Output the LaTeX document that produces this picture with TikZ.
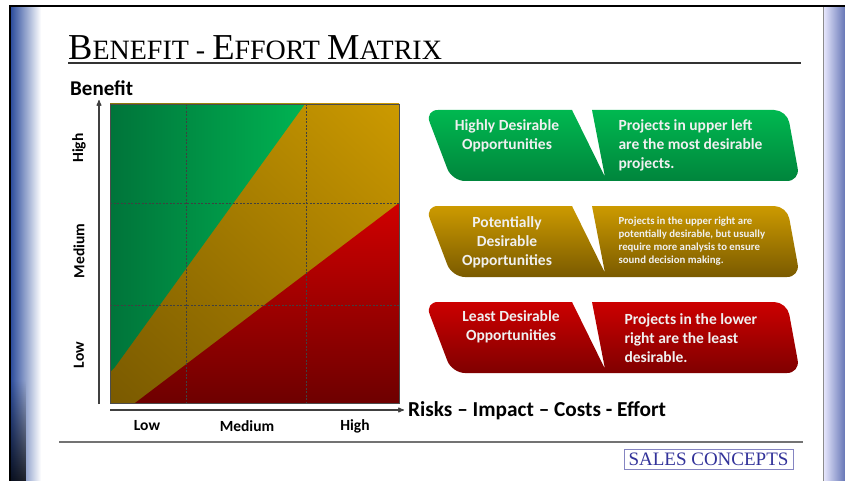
\documentclass[tikz,border=0pt]{standalone}
\usepackage{fontspec}
\setmainfont{Liberation Serif}
\setsansfont{Carlito}
\usepackage{tikz}
\usetikzlibrary{arrows}
\usetikzlibrary{positioning}
\usetikzlibrary{fadings, shadings}
\usepackage{xcolor}
\definecolor{frameblue}{HTML}{2E4E9E}
\definecolor{sideblue}{HTML}{6676B6}
\definecolor{mgreendark}{HTML}{00743A}
\definecolor{mgreenlight}{HTML}{00B352}
\definecolor{cgreentop}{HTML}{00B850}
\definecolor{cgreenbot}{HTML}{00853C}
\definecolor{mred}{HTML}{D00000}
\definecolor{mreddark}{HTML}{6E0000}
\definecolor{morangeul}{HTML}{A07A00}
\definecolor{morangeur}{HTML}{CC9A00}
\definecolor{morangell}{HTML}{7A5A00}
\definecolor{morangelr}{HTML}{9E7400}
\definecolor{logoblue}{HTML}{33339A}
\newcommand{\bigsc}[2]{{\fontsize{36.5}{36.5}\selectfont #1}{\fontsize{28}{28}\selectfont #2}}
\newcommand{\callout}[3]{%
  \shade[top color=#2, bottom color=#3] (605,#1+67) -- (572,#1) [rounded corners=13pt] -- (425,#1) -- (452,#1+71) -- (800,#1+71) -- (787,#1) [sharp corners] -- (592,#1) -- cycle;}

\begin{document}
\begin{tikzpicture}[
        x=1pt, y=-1pt,
        axis/.style={->, >=stealth', line width=1.1pt, black!75},
        gridline/.style={black!75, line width=.6pt, dash pattern=on 2pt off 1.5pt},
        lbl/.style={font=\sffamily\bfseries\fontsize{15.5}{15.5}\selectfont},
        boxtext/.style={text=white!94!black, font=\sffamily\bfseries\fontsize{15.5}{19}\selectfont, align=center},
        smalltext/.style={text=white!94!black, font=\sffamily\bfseries\fontsize{10.8}{13}\selectfont, align=left, anchor=west}
    ]
        \useasboundingbox (0,0) rectangle (845,481);
        \fill[white] (0,0) rectangle (845,481);
        \shade[left color=frameblue, right color=white] (11,6) rectangle (41,481);
        \fill[black, opacity=.8, path fading=north] (11,380) rectangle (26,481);
        \shade[left color=white!92!blue, right color=sideblue] (823,6) rectangle (845,481);
        \draw[black!45, line width=.8pt] (823,6) -- (823,481);
        \draw[black, line width=2pt] (10,481) -- (10,6) -- (845,6);

        \node[anchor=base west, inner sep=0] (title) at (68,60) {\bigsc{B}{ENEFIT - }\bigsc{E}{FFORT }\bigsc{M}{ATRIX}};
        \draw[black!80, line width=1.5pt] (68,63) -- (801,63);
        \node[anchor=west, inner sep=0, font=\sffamily\bfseries\fontsize{21}{21}\selectfont] (benefit) at (70,88) {Benefit};

        \shade[upper left=morangeul, upper right=morangeur, lower left=morangell, lower right=morangelr] (110,104) rectangle (399,403);
        \shade[left color=mgreendark, right color=mgreenlight] (110,104) -- (305,104) -- (115,367) -- (110,372) -- cycle;
        \shade[top color=mred, bottom color=mreddark] (135,403) -- (399,203) -- (399,403) -- cycle;
        \foreach \x in {186,306} \draw[gridline] (\x,104) -- (\x,403);
        \foreach \y in {203,305} \draw[gridline] (110,\y) -- (399,\y);
        \draw[black!70, line width=.6pt] (110,104) rectangle (399,403);

        \coordinate (yo) at (99,404);
        \coordinate (yt) at (99,100);
        \coordinate (xo) at (110,410);
        \coordinate (xt) at (404,410);
        \draw[axis] (yo) -- (yt);
        \draw[axis] (xo) -- (xt);

        \node[lbl, rotate=90] (yhigh) at (79,148) {High};
        \node[lbl, rotate=90] (ymed) at (79,251) {Medium};
        \node[lbl, rotate=90] (ylow) at (79,355) {Low};
        \node[lbl] (xlow) at (147,426) {Low};
        \node[lbl] (xmed) at (247,426) {Medium};
        \node[lbl] (xhigh) at (355,426) {High};
        \node[anchor=west, inner sep=0, font=\sffamily\bfseries\fontsize{21.3}{21.3}\selectfont] (xaxis) at (408,411) {Risks -- Impact -- Costs - Effort};

        \callout{110}{cgreentop}{cgreenbot}
        \callout{206}{morangeur}{morangell}
        \callout{302}{red!80!black}{red!50!black}

        \node[boxtext] (high) at (507,136) {Highly Desirable\\Opportunities};
        \node[boxtext, anchor=west] (highr) at (615,145) [align=left] {Projects in upper left\\are the most desirable\\projects.};
        \node[boxtext] (pot) at (507,242) {Potentially\\Desirable\\Opportunities};
        \node[smalltext] (potr) at (615,241) {Projects in the upper right are\\potentially desirable, but usually\\require more analysis to ensure\\sound decision making.};
        \node[boxtext] (least) at (511,327) {Least Desirable\\Opportunities};
        \node[boxtext, anchor=west] (leastr) at (621,338) [align=left] {Projects in the lower\\right are the least\\desirable.};

        \draw[black!55, line width=1.5pt] (59,442) -- (803,442);
        \node[draw=logoblue!60, line width=.6pt, text=logoblue, font=\fontsize{19}{19}\selectfont, minimum width=169pt, minimum height=20pt, inner sep=0] (logo) at (708.5,459) {SALES CONCEPTS};
    \end{tikzpicture}
\end{document}
